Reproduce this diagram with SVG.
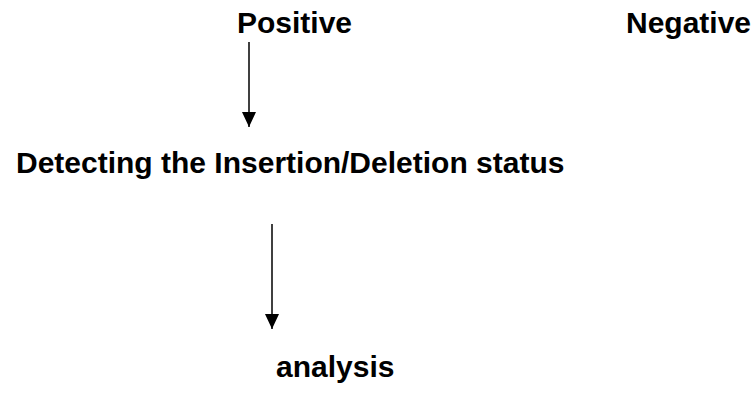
<svg xmlns="http://www.w3.org/2000/svg" width="756" height="398" viewBox="0 0 756 398">
<style>
text{font-family:"Liberation Sans",Arial,sans-serif;font-weight:bold;font-size:30px;fill:#000}
.c{stroke:#000;stroke-width:1.5;fill:none}
</style>
<defs>
<marker id="ah" viewBox="0 0 15 14" refX="15" refY="7" markerWidth="15" markerHeight="14" markerUnits="userSpaceOnUse" orient="auto"><path d="M0,0 L15,7 L0,14 Z" fill="#000"/></marker>
</defs>
<rect width="756" height="398" fill="#fff"/>
<g id="positive"><text x="237" y="33">Positive</text></g>
<g id="negative"><text x="626" y="33">Negative</text></g>
<g id="detecting"><text x="16" y="173">Detecting the Insertion/Deletion status</text></g>
<g id="analysis"><text x="276" y="377">analysis</text></g>
<g id="connectors">
<line class="c" x1="249" y1="42" x2="249" y2="127" marker-end="url(#ah)"/>
<line class="c" x1="272" y1="224" x2="272" y2="329" marker-end="url(#ah)"/>
</g>
</svg>
